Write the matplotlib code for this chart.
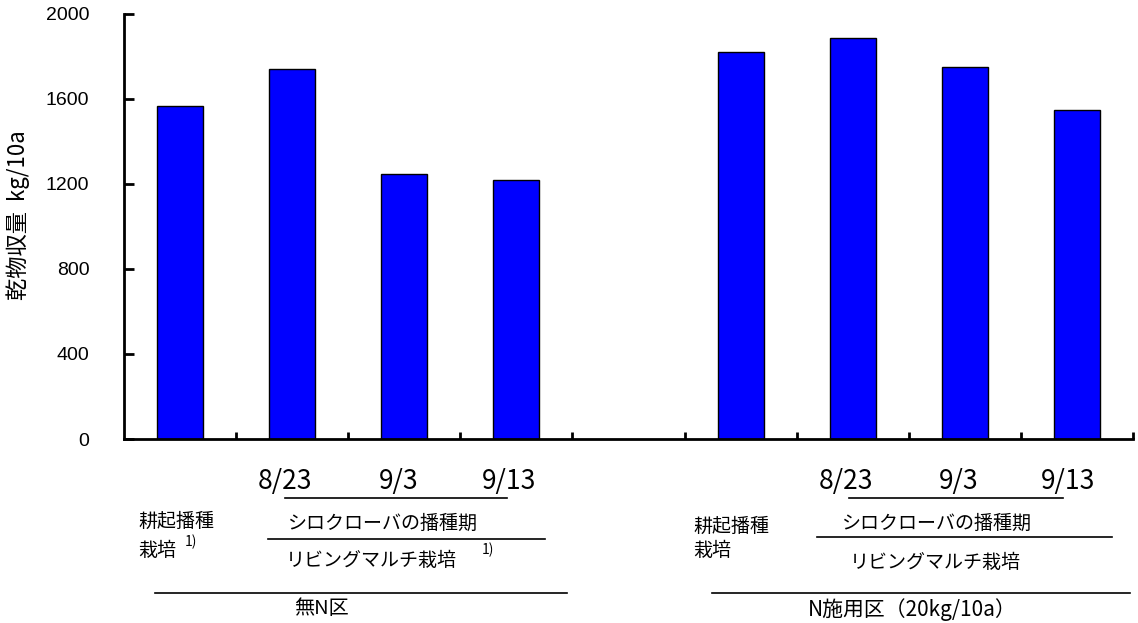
import numpy as np
import matplotlib
matplotlib.use("Agg")
import matplotlib.pyplot as plt
from matplotlib.lines import Line2D

plt.rcParams['font.family'] = ['Noto Sans CJK JP', 'DejaVu Sans']

# dry matter yield, kg/10a (slot 4 is the empty gap between the two groups)
slots = np.arange(9)
values = [1567, 1740, 1246, 1217, np.nan, 1820, 1885, 1749, 1546]
yticks = [0, 400, 800, 1200, 1600, 2000]
dates = ["8/23", "9/3", "9/13"]

W, H = 1138, 623
fig = plt.figure(figsize=(W / 100, H / 100), dpi=100)
ax = fig.add_axes([124 / W, 1 - 439 / H, (1133 - 124) / W, (439 - 13.5) / H])

ax.bar(slots, values, width=0.41, color="#0000FF", edgecolor="black", linewidth=1)

ax.set_xlim(-0.5, 8.5)
ax.set_ylim(0, 2000)
ax.set_yticks(yticks)
ax.set_yticklabels([str(v) for v in yticks], family="Liberation Sans", fontsize=14)
ax.set_xticks(np.arange(0.5, 9, 1))
ax.set_xticklabels([])
ax.tick_params(axis="y", direction="in", length=7, width=2, pad=25)
ax.tick_params(axis="x", direction="in", length=5, width=2)
for s in ["top", "right"]:
    ax.spines[s].set_visible(False)
for s in ["left", "bottom"]:
    ax.spines[s].set_linewidth(2)


def px(x, y):
    return x / W, 1 - y / H


def txt(x, y, s, size=13.7, ha="center", **kw):
    fig.text(*px(x, y), s, fontsize=size, ha=ha, va="center", **kw)


def hline(x0, x1, y):
    (a, b), (c, d) = px(x0, y), px(x1, y)
    fig.add_artist(Line2D([a, c], [b, d], color="black", linewidth=1.2))


fig.text(*px(18, 215), "乾物収量  kg/10a", rotation=90, fontsize=16,
         ha="center", va="center")

# labels below the axis, one block per group
for xs in ([285, 399, 509], [846, 959, 1068]):
    for d, cx in zip(dates, xs):
        txt(cx, 481, d, size=19)

# left group
hline(285, 507, 498)
txt(383, 523, "シロクローバの播種期")
hline(268, 545, 539)
txt(371, 561, "リビングマルチ栽培")
txt(482, 550, "1)", size=10, ha="left")
txt(138, 521, "耕起播種", ha="left")
txt(138, 551, "栽培", ha="left")
txt(185, 542, "1)", size=10, ha="left")
hline(155, 567, 593)
txt(321, 609, "無N区", size=14.5)

# right group
hline(849, 1063, 498)
txt(937, 523, "シロクローバの播種期")
hline(817, 1112, 537)
txt(935, 562, "リビングマルチ栽培")
txt(693, 526, "耕起播種", ha="left")
txt(693, 550, "栽培", ha="left")
hline(712, 1130, 593)
txt(912, 610, "N施用区（20kg/10a）", size=15)

fig.savefig("out.png", dpi=100)
